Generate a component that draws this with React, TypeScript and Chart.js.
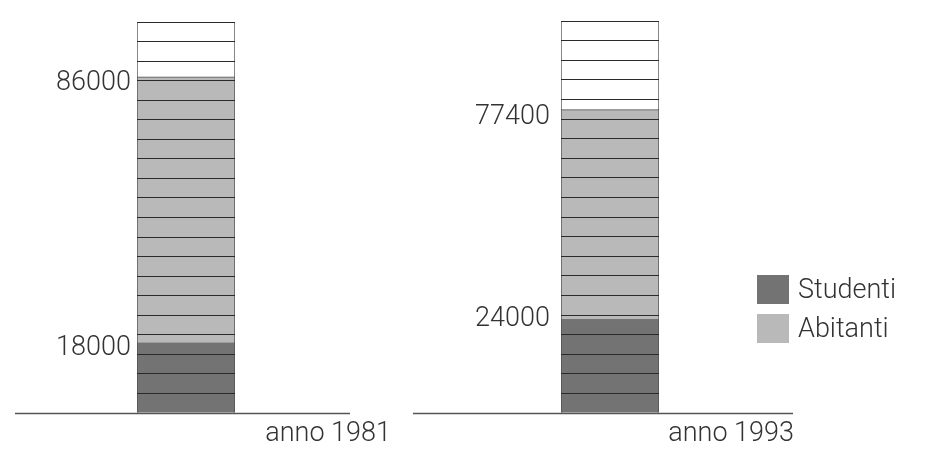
import React, { useEffect, useRef } from "react";
import { Chart, registerables } from "chart.js";

Chart.register(...registerables);

// ---- data ----
const years = ["anno 1981", "anno 1993"];
const studenti = [18000, 24000];
const abitanti = [86000, 77400];
const scaleTop = [100000, 100000];
const gridStep = 5000;
const legendLabels = ["Studenti", "Abitanti"];

// ---- styles ----
const DARK = "#737373";
const LIGHT = "#b9b9b9";
const EDGE = "#4d4d4d";
const GRID = "#2a2a2a";
const TEXT = "#333333";
const FONT = "300 27px Roboto";

// layout per column (page pixels)
const columns = [
  { left: 137, right: 235, top: 22, bottom: 413, lineFrom: 15, lineTo: 350, yearRight: 391, valueRight: 131, valueShift: [12, 13] },
  { left: 561, right: 659, top: 21, bottom: 413, lineFrom: 413, lineTo: 793, yearRight: 794, valueRight: 550, valueShift: [7, 14] },
];

const W = 937;
const H = 461;

function ColumnChart({ idx }: { idx: number }) {
  const ref = useRef<HTMLCanvasElement | null>(null);
  useEffect(() => {
    if (!ref.current) return;
    const c = columns[idx];
    const values = [studenti[idx], abitanti[idx]];
    const annotate = {
      id: "annotate" + idx,
      afterDraw(chart: any) {
        const ctx = chart.ctx;
        const y = chart.scales.y;
        ctx.save();
        // baseline
        const y0 = Math.round(y.getPixelForValue(0)) + 0.5;
        ctx.strokeStyle = "#555";
        ctx.lineWidth = 1.5;
        ctx.beginPath();
        ctx.moveTo(c.lineFrom, y0);
        ctx.lineTo(c.lineTo, y0);
        ctx.stroke();
        // value labels
        ctx.fillStyle = TEXT;
        ctx.font = FONT;
        ctx.textAlign = "right";
        ctx.textBaseline = "alphabetic";
        values.forEach((v, i) => {
          ctx.fillText(String(v), c.valueRight, y.getPixelForValue(v) + c.valueShift[i]);
        });
        // year label
        ctx.fillText(years[idx], c.yearRight, y0 + 27);
        ctx.restore();
      },
    };
    const border = { left: 1, right: 1, top: 0, bottom: 0 };
    const chart = new Chart(ref.current, {
      type: "bar",
      data: {
        labels: [years[idx]],
        datasets: [
          { label: legendLabels[0], data: [studenti[idx]], backgroundColor: DARK, borderColor: EDGE, borderWidth: border, borderSkipped: false },
          { label: legendLabels[1], data: [abitanti[idx]], backgroundColor: LIGHT, borderColor: EDGE, borderWidth: { left: 1, right: 1, top: 1, bottom: 0 }, borderSkipped: false },
          { label: "totale", data: [scaleTop[idx]], backgroundColor: "#ffffff", borderColor: EDGE, borderWidth: border, borderSkipped: false },
        ],
      },
      options: {
        responsive: false,
        animation: false,
        events: [],
        layout: {
          padding: { left: c.left, right: W - c.right, top: c.top, bottom: H - c.bottom },
        },
        plugins: { legend: { display: false }, tooltip: { enabled: false } },
        datasets: { bar: { barPercentage: 1, categoryPercentage: 1 } },
        scales: {
          x: { display: false, stacked: true },
          y: {
            stacked: false,
            min: 0,
            max: scaleTop[idx],
            z: 1,
            afterFit: (s: any) => { s.width = 0; },
            ticks: { display: false, stepSize: gridStep },
            border: { display: false },
            grid: { color: GRID, lineWidth: 1, drawTicks: false, z: 1 },
          },
        },
      },
      plugins: [annotate],
    });
    return () => chart.destroy();
  }, [idx]);
  return (
    <canvas
      ref={ref}
      width={W}
      height={H}
      style={{ position: "absolute", left: 0, top: 0, width: W, height: H }}
    />
  );
}

export default function App() {
  const legendColors = [DARK, LIGHT];
  const legendTops = [275, 314];
  return (
    <div style={{ position: "absolute", left: 0, top: 0, width: W, height: H, background: "#fff", overflow: "hidden" }}>
      <ColumnChart idx={0} />
      <ColumnChart idx={1} />
      {legendLabels.map((l, i) => (
        <React.Fragment key={l}>
          <div style={{ position: "absolute", left: 757, top: legendTops[i], width: 32, height: 29, background: legendColors[i] }} />
          <div style={{ position: "absolute", left: 798, top: legendTops[i] + 0.5, font: FONT, lineHeight: "27px", color: TEXT, whiteSpace: "nowrap" }}>{l}</div>
        </React.Fragment>
      ))}
    </div>
  );
}
